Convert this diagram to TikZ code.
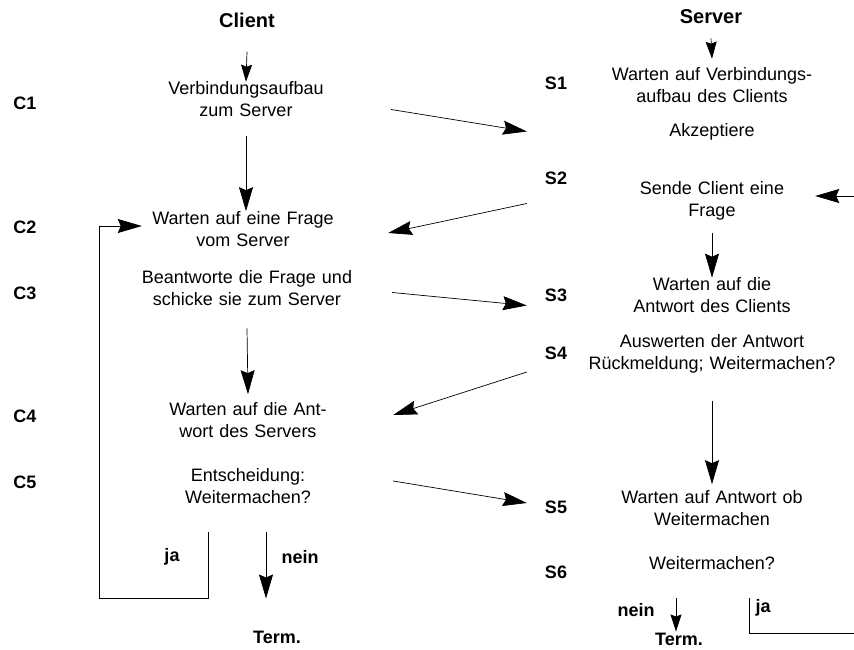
\documentclass[tikz,border=0pt]{standalone}
\usepackage{fontspec}
\setmainfont{Liberation Sans}
\usetikzlibrary{arrows.meta}

\begin{document}
\begin{tikzpicture}[x=1pt,y=-1pt,
		txt/.style={inner sep=0pt,font=\fontsize{18}{22}\selectfont},
		cstep/.style={txt,text width=290pt,align=center},
		sstep/.style={txt,text width=370pt,align=center},
		lbl/.style={inner sep=0pt,font=\fontsize{18}{22}\selectfont\bfseries},
		head/.style={inner sep=0pt,font=\fontsize{20}{24}\selectfont\bfseries},
		flow/.style={line width=0.7pt,-{Stealth[length=24pt,width=14pt,inset=3pt]}},
		flowsmall/.style={line width=0.7pt,-{Stealth[length=17pt,width=11pt,inset=2pt]}}]
		\useasboundingbox (0,0) rectangle (854,650);
		% Client
		\node[head] (client) at (247,20) {Client};
		\node[cstep] (c1) at (246,99.5) {Verbindungsaufbau\\zum Server};
		\node[cstep] (c2) at (243,229) {Warten auf eine Frage\\vom Server};
		\node[cstep] (c3) at (247,288.5) {Beantworte die Frage und\\schicke sie zum Server};
		\node[cstep] (c4) at (248,420) {Warten auf die Ant-\\wort des Servers};
		\node[cstep] (c5) at (248,486) {Entscheidung:\\Weitermachen?};
		\node[lbl] (term) at (277,637) {Term.};
		\node[lbl] (lc1) at (25,103) {C1};
		\node[lbl] (lc2) at (25,227) {C2};
		\node[lbl] (lc3) at (25,293) {C3};
		\node[lbl] (lc4) at (25,416) {C4};
		\node[lbl] (lc5) at (25,482) {C5};
		\node[lbl] (cja) at (172,557) {ja};
		\node[lbl] (cnein) at (300,557) {nein};
		\coordinate (cjatop) at (208,532);
		\coordinate (cjabot) at (99,598);
		\coordinate (cneintop) at (266,532);
		% Server
		\node[head] (srv) at (711,17) {Server};
		\node[sstep] (s1) at (712,85.5) {Warten auf Verbindungs-\\aufbau des Clients};
		\node[sstep] (akz) at (712,131.5) {Akzeptiere};
		\node[sstep] (s2) at (712,200.5) {Sende Client eine\\Frage};
		\node[sstep] (s3) at (712,295.5) {Warten auf die\\Antwort des Clients};
		\node[sstep] (s4) at (712,354) {Auswerten der Antwort\\Rückmeldung; Weitermachen?};
		\node[sstep] (s5) at (712,508) {Warten auf Antwort ob\\Weitermachen};
		\node[sstep] (s6) at (712,563.5) {Weitermachen?};
		\node[lbl] (sterm) at (679,639) {Term.};
		\node[lbl] (ls1) at (556,83) {S1};
		\node[lbl] (ls2) at (556,178) {S2};
		\node[lbl] (ls3) at (556,295) {S3};
		\node[lbl] (ls4) at (556,353) {S4};
		\node[lbl] (ls5) at (556,507) {S5};
		\node[lbl] (ls6) at (556,572) {S6};
		\node[lbl] (snein) at (636,610) {nein};
		\node[lbl] (sja) at (763,608) {ja};
		\coordinate (sneintop) at (676,598);
		\coordinate (sjatop) at (749,598);
		\coordinate (sedge) at (854,633);
		\coordinate (sback) at (854,196);

		% client column
		\draw[flowsmall] (client.south |- c1.north) ++(0,-30) -- (c1.north);
		\draw[flow] ([yshift=-19pt]c1.south) -- (c1.south |- c2.north);
		\draw[flow] ([yshift=-22pt]c3.south) -- ([yshift=8pt]c4.north);
		\draw[line width=0.7pt] (cjatop) |- (cjabot);
		\draw[flow] (cjabot) |- ([xshift=44pt,yshift=3pt]c2.west);
		\draw[flow] (cneintop) -- ([yshift=32pt]term.north -| cneintop);
		% server column
		\draw[flowsmall] ([yshift=-14pt]srv.south) -- ([yshift=9pt]s1.north);
		\draw[flow] ([yshift=-13pt]s2.south) -- (s2.south |- s3.north);
		\draw[flow] ([yshift=-27pt]s4.south) -- ([yshift=6pt]s4.south |- s5.north);
		\draw[flow] (sback) -- ([xshift=-82pt,yshift=4.5pt]s2.east);
		\draw[flowsmall] (sneintop) -- ([yshift=1pt]sterm.north -| sneintop);
		\draw[line width=0.7pt] (sjatop) |- (sedge);
		% messages
		\draw[flow] ([yshift=-10pt]c1.east) -- (akz.west);
		\draw[flow] ([yshift=-3pt]s2.west) -- ([yshift=-4pt]c2.east);
		\draw[flow] ([yshift=-4pt]c3.east) -- ([yshift=-10pt]s3.west);
		\draw[flow] ([yshift=-18pt]s4.west) -- ([yshift=5pt]c4.east);
		\draw[flow] ([yshift=5pt]c5.east) -- ([yshift=5pt]s5.west);
	\end{tikzpicture}
\end{document}
